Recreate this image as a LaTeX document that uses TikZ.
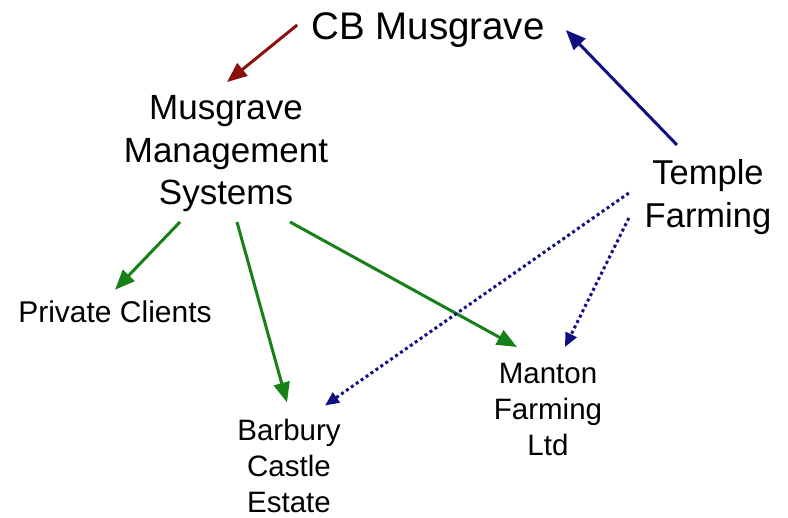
\documentclass[tikz,border=0pt]{standalone}
\usepackage{fontspec}
\setmainfont{Liberation Sans}
\usetikzlibrary{arrows.meta,calc}
\definecolor{cbred}{RGB}{140,16,16}
\definecolor{cbblue}{RGB}{16,16,128}
\definecolor{cbgreen}{RGB}{24,128,24}
\newcommand{\fs}[2]{\fontsize{#1}{#2}\selectfont}

\begin{document}
\begin{tikzpicture}[x=1pt,y=-1pt,
    every node/.style={inner sep=0pt,align=center},
    solidarrow/.style={line width=3pt,-{Triangle[length=20pt,width=16pt]}},
    dotarrow/.style={cbblue,line width=3pt,dash pattern=on 3pt off 3pt,-{Triangle[length=14pt,width=12pt]}}]
    \useasboundingbox (0,0) rectangle (788,518);
    \node[font=\fs{38.5}{46}] (CB) at (428,30.5) {CB Musgrave};
    \node[font=\fs{35}{42.5}] (MMS) at (226,154) {Musgrave\\Management\\Systems};
    \node[font=\fs{34.5}{42.3}] (TF) at (708,197.2) {Temple\\Farming};
    \node[font=\fs{30}{36}] (PC) at (115,312) {Private Clients};
    \node[font=\fs{29.5}{36}] (BCE) at (289,465.5) {Barbury\\Castle\\Estate};
    \node[font=\fs{29.5}{36}] (MFL) at (548,409.5) {Manton\\Farming\\Ltd};
    % ownership
    \draw[solidarrow,cbred] ($(CB.west)+(-14,-5.5)$) -- ($(MMS.north)+(1,-13.6)$);
    \draw[solidarrow,cbblue] ($(TF.north)+(-31,-14.8)$) -- ($(CB.east)+(21,-0.5)$);
    % management
    \draw[solidarrow,cbgreen] ($(MMS.south)+(-46,9.6)$) -- ($(PC.north)+(0,-11)$);
    \draw[solidarrow,cbgreen] ($(MMS.south)+(11,9.6)$) -- ($(BCE.north)+(-2,-16)$);
    \draw[solidarrow,cbgreen] ($(MMS.south)+(64,9.6)$) -- ($(MFL.north)+(-31,-16)$);
    % farming
    \draw[dotarrow] ($(TF.west)+(-15.7,-4.2)$) -- ($(BCE.north)+(36,-13)$);
    \draw[dotarrow] ($(TF.west)+(-15.7,20.8)$) -- ($(MFL.north)+(17,-16)$);
\end{tikzpicture}
\end{document}
